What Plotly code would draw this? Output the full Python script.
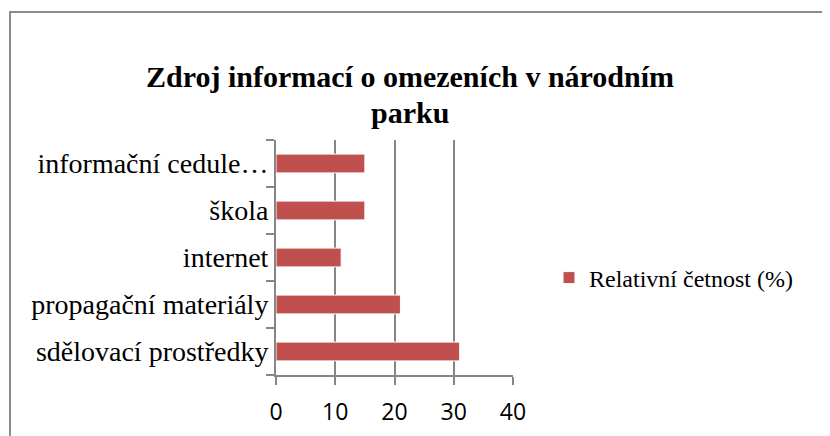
import plotly.graph_objects as go

categories = ["sdělovací prostředky", "propagační materiály", "internet", "škola", "informační cedule…"]
values = [31, 21, 11, 15, 15]
series_name = "Relativní četnost (%)"
x_ticks = [0, 10, 20, 30, 40]
title_lines = ["Zdroj informací o omezeních v národním", "parku"]

W, H = 830, 436
OFF = 8  # page body margin
L, R, T, B = 276 - OFF, W - (513 - OFF), 140 - OFF, H - (375 - OFF)
pw, ph = W - L - R, H - T - B

def px_to_paper_x(px):
    return (px - OFF - L) / pw

def px_to_paper_y(py):
    return 1 - (py - OFF - T) / ph

SERIF = "Liberation Serif, Times New Roman, serif"

fig = go.Figure()
fig.add_trace(go.Bar(
    y=categories, x=values, orientation="h", name=series_name,
    marker=dict(color="#C0504D", line=dict(color="#FFFFFF", width=1)),
    width=0.4, showlegend=True,
))

axis_col = "#868686"
fig.update_layout(
    width=W, height=H,
    margin=dict(l=L, r=R, t=T, b=B, autoexpand=False),
    paper_bgcolor="white", plot_bgcolor="white",
    xaxis=dict(range=[0, 40], tickvals=x_ticks, showgrid=True, gridcolor=axis_col, gridwidth=2,
               showline=True, linecolor=axis_col, linewidth=2, ticks="outside", ticklen=8,
               tickcolor=axis_col, tickwidth=2, zeroline=False, ticklabelstandoff=7,
               tickfont=dict(family="Open Sans", size=23, color="black"), fixedrange=True),
    yaxis=dict(categoryorder="array", categoryarray=categories, showline=True,
               linecolor=axis_col, linewidth=2, ticks="outside", ticklen=8, tickcolor=axis_col,
               tickwidth=2, tickson="boundaries", showgrid=False,
               tickfont=dict(family=SERIF, size=28, color="black"), fixedrange=True),
    legend=dict(x=px_to_paper_x(549), y=px_to_paper_y(278), xanchor="left", yanchor="middle",
                font=dict(family=SERIF, size=24, color="black"),
                bgcolor="rgba(0,0,0,0)", itemwidth=30),
    bargap=0.6,
)
for line, ypx in zip(title_lines, [77, 113]):
    fig.add_annotation(text=line, xref="paper", yref="paper", x=px_to_paper_x(410),
                       y=px_to_paper_y(ypx), xanchor="center", yanchor="middle", showarrow=False,
                       font=dict(family=SERIF, size=30, color="black", weight="bold"))
fig.add_shape(type="rect", xref="paper", yref="paper",
              x0=px_to_paper_x(10), x1=px_to_paper_x(845),
              y0=px_to_paper_y(455), y1=px_to_paper_y(12),
              line=dict(color="#8C8C8C", width=2), fillcolor="rgba(0,0,0,0)", layer="below")
fig.write_html("out.html")
